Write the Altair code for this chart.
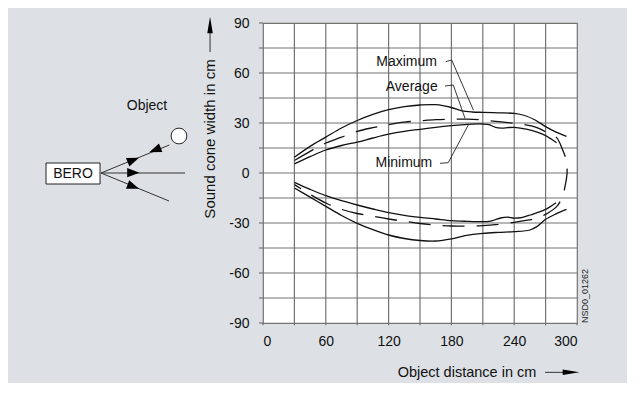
import altair as alt
import pandas as pd

# ---- curve data (x: object distance in cm, y: sound cone width in cm) ----
max_up_x = [30, 45, 60, 75, 90, 105, 120, 135, 150, 165, 180, 190, 200, 210, 225, 240, 250, 260, 270, 280, 290]
max_up_y = [9.5, 16, 21.5, 27, 31.5, 35.2, 38, 39.8, 40.8, 41, 39.3, 37.3, 36.6, 36.4, 36.1, 35.8, 34.5, 31.8, 27.8, 24.5, 22]

max_lo_x = [30, 45, 60, 75, 90, 105, 120, 135, 150, 165, 180, 193, 210, 225, 240, 255, 262, 270, 280, 290]
max_lo_y = [-9, -14.5, -20, -25.5, -30.2, -34, -37.2, -39.3, -40.5, -40.8, -39.5, -37.6, -36.2, -35.6, -35.2, -34.2, -32, -27.8, -24.5, -21.8]

min_up_x = [30, 45, 60, 75, 90, 105, 120, 135, 150, 165, 180, 195, 210, 216, 222, 228, 234, 240, 252.7, 262, 270, 280.5]
min_up_y = [5.5, 9.8, 13.8, 16.5, 18.5, 21, 23.3, 25, 26.2, 27.4, 28.4, 29.2, 29.4, 29, 27.4, 26.9, 27.2, 27.4, 26.2, 24.5, 22.4, 18.2]

min_lo_x = [30, 45, 60, 75, 90, 105, 120, 135, 150, 165, 180, 195, 210, 216, 221, 227, 233.6, 240, 248, 255.3, 262, 270, 280]
min_lo_y = [-5.6, -9.8, -13.6, -16.6, -19.2, -21.6, -23.8, -25.4, -26.6, -27.6, -28.6, -29, -29.2, -29, -28.2, -27, -26.5, -27.1, -26.6, -25.2, -23.8, -21.8, -17.8]

avg_x = [30, 45, 60, 75, 90, 105, 120, 135, 150, 165, 180, 195, 210, 225, 240, 250, 261, 270, 280.5,
         286, 289.5, 290.5, 288.5, 286,
         280.5, 270, 261, 250, 240, 225, 210, 195, 180, 165, 150, 135, 120, 105, 90, 75, 60, 45, 30]
avg_y = [7.5, 13, 18, 21.5, 25, 27.2, 29, 30.5, 31.3, 32, 32.3, 32.3, 31.8, 30.8, 29.8, 29, 27.4, 24.8, 21.2,
         14.2, 8.2, 0, -8.2, -14.2,
         -20.2, -24.8, -27.2, -28.6, -29.6, -30.8, -31.6, -31.8, -31.8, -31.2, -30.3, -29, -27.6, -26, -24.3, -21.8, -18, -12.8, -7]

# ---- annotation labels and leader lines ----
labels = ["Maximum", "Average", "Minimum"]
label_x = [166.2, 166.9, 161.7]
label_y = [66.6, 51.8, 6.2]
lead_max_x = [174.6, 180.3, 201]
lead_max_y = [66.8, 67.8, 37.8]
lead_avg_x = [173.9, 181.8, 193]
lead_avg_y = [52.2, 52.8, 32.8]
lead_min_x = [169.1, 177, 196.1]
lead_min_y = [5.8, 6.2, 28.8]

# ---- sketch on the left (in the same data units) ----
box_x = [-207.3]; box_x2 = [-155.7]; box_y = [-6.6]; box_y2 = [6.0]
ray_end_x = [-89.5, -74.5, -89.8]
ray_end_y = [16.8, 0.0, -16.8]
ray_start = (-154.8, 0.0)
obj_x = [-80.3]; obj_y = [22.2]
head_x = [-123.9, -103.2, -123.9, -123.9]
head_y = [7.8, 13.8, 0.2, -8.2]
head_ang = [68, 248, 90, 111]

# axis-title arrows
ytitle_arrow_x = [-50.6, -50.6]; ytitle_arrow_y = [72.6, 86]
xtitle_arrow_x = [269.4, 290]; xtitle_arrow_y = [-119.6, -119.6]
long_head_x = [-50.6, 294.3]; long_head_y = [88.8, -119.6]; long_head_ang = [0, 90]

# ---- grid, ticks, labels ----
x_grid = list(range(30, 271, 30))
y_grid = list(range(-75, 76, 15))
x_tick_vals = list(range(0, 301, 30))
y_tick_vals = list(range(-90, 91, 15))
x_label_vals = list(range(0, 301, 60))
y_label_vals = list(range(-90, 91, 30))

FONT = "Liberation Sans"
BG = "#dde1e5"
GRID = "#737373"

def path_df(xs, ys, key):
    return pd.DataFrame({"x": xs, "y": ys, "key": key, "i": list(range(len(xs)))})

solid = pd.concat([
    path_df(max_up_x, max_up_y, "max_up"),
    path_df(max_lo_x, max_lo_y, "max_lo"),
    path_df(min_up_x, min_up_y, "min_up"),
    path_df(min_lo_x, min_lo_y, "min_lo"),
])
avg = path_df(avg_x, avg_y, "avg")
leads = pd.concat([
    path_df(lead_max_x, lead_max_y, "lmax"),
    path_df(lead_avg_x, lead_avg_y, "lavg"),
    path_df(lead_min_x, lead_min_y, "lmin"),
])
rays = pd.concat([
    path_df([ray_start[0], ex], [ray_start[1], ey], f"r{k}")
    for k, (ex, ey) in enumerate(zip(ray_end_x, ray_end_y))
] + [path_df(ytitle_arrow_x, ytitle_arrow_y, "ya"), path_df(xtitle_arrow_x, xtitle_arrow_y, "xa")])

xs = alt.Scale(domain=[0, 300], nice=False, zero=False)
ys = alt.Scale(domain=[-90, 90], nice=False, zero=False)

X = alt.X("x:Q", scale=xs,
          axis=alt.Axis(values=x_label_vals, title=None, grid=False, ticks=False,
                        labelExpr="'' + datum.value"))
Y = alt.Y("y:Q", scale=ys,
          axis=alt.Axis(values=y_label_vals, title=None, grid=False, ticks=False,
                        labelExpr="'' + datum.value"))

vgrid = alt.Chart(pd.DataFrame({"x": x_grid, "y": -90, "y2": 90})).mark_rule(
    color=GRID, strokeWidth=1.2).encode(x=X, y=Y, y2="y2:Q")
hgrid = alt.Chart(pd.DataFrame({"y": y_grid, "x": 0, "x2": 300})).mark_rule(
    color=GRID, strokeWidth=1.2).encode(x="x:Q", x2="x2:Q", y="y:Q")
xticks = alt.Chart(pd.DataFrame({"x": x_tick_vals, "y": -91.4, "y2": -90})).mark_rule(
    color=GRID, strokeWidth=1.2).encode(x="x:Q", y="y:Q", y2="y2:Q")
yticks = alt.Chart(pd.DataFrame({"y": y_tick_vals, "x": -3.8, "x2": 0})).mark_rule(
    color=GRID, strokeWidth=1.2).encode(x="x:Q", x2="x2:Q", y="y:Q")

curves = alt.Chart(solid).mark_line(color="#111", strokeWidth=1.3, interpolate="catmull-rom").encode(
    x="x:Q", y="y:Q", detail="key:N", order="i:Q")
avg_line = alt.Chart(avg).mark_line(color="#111", strokeWidth=1.3, strokeDash=[22, 12],
                                    interpolate="catmull-rom").encode(
    x="x:Q", y="y:Q", order="i:Q")
lead_lines = alt.Chart(leads).mark_line(color="#222", strokeWidth=0.9).encode(
    x="x:Q", y="y:Q", detail="key:N", order="i:Q")

lab_df = pd.DataFrame({"x": label_x, "y": label_y, "t": labels})
lab = alt.Chart(lab_df).mark_text(align="right", baseline="middle", font=FONT, fontSize=14,
                                  color="#111").encode(x="x:Q", y="y:Q", text="t:N")

box = alt.Chart(pd.DataFrame({"x": box_x, "x2": box_x2, "y": box_y, "y2": box_y2})).mark_rect(
    fill="white", stroke="#222", strokeWidth=1).encode(x="x:Q", x2="x2:Q", y="y:Q", y2="y2:Q")
ray_lines = alt.Chart(rays).mark_line(color="#333", strokeWidth=1).encode(
    x="x:Q", y="y:Q", detail="key:N", order="i:Q")
obj = alt.Chart(pd.DataFrame({"x": obj_x, "y": obj_y})).mark_point(
    shape="circle", size=250, filled=True, fill="white", stroke="#222", strokeWidth=1, opacity=1).encode(
    x="x:Q", y="y:Q")
heads = alt.Chart(pd.DataFrame({"x": head_x, "y": head_y, "a": head_ang})).mark_point(
    shape="M0,-1L0.75,1L-0.75,1Z", size=150, filled=True, color="#000", opacity=1).encode(
    x="x:Q", y="y:Q", angle=alt.Angle("a:Q", scale=None))
long_heads = alt.Chart(pd.DataFrame({"x": long_head_x, "y": long_head_y, "a": long_head_ang})).mark_point(
    shape="M0,-1L0.33,1L-0.33,1Z", size=280, filled=True, color="#000", opacity=1).encode(
    x="x:Q", y="y:Q", angle=alt.Angle("a:Q", scale=None))

txt_df = pd.DataFrame({"x": [-110.8, -181.5], "y": [40.2, -0.3], "t": ["Object", "BERO"]})
txt = alt.Chart(txt_df).mark_text(font=FONT, fontSize=14, color="#111", baseline="middle").encode(
    x="x:Q", y="y:Q", text="t:N")

xt = alt.Chart(pd.DataFrame({"x": [194.9], "y": [-120.0], "t": ["Object distance in cm"]})).mark_text(
    font=FONT, fontSize=14.5, color="#111", baseline="middle").encode(x="x:Q", y="y:Q", text="t:N")
yt = alt.Chart(pd.DataFrame({"x": [-50.6], "y": [20.4], "t": ["Sound cone width in cm"]})).mark_text(
    font=FONT, fontSize=15, color="#111", baseline="middle", angle=270).encode(x="x:Q", y="y:Q", text="t:N")
code = alt.Chart(pd.DataFrame({"x": [307.6], "y": [-73.8], "t": ["NSD0_01262"]})).mark_text(
    font=FONT, fontSize=9, color="#222", baseline="middle", angle=270).encode(x="x:Q", y="y:Q", text="t:N")

chart = alt.layer(vgrid, hgrid, xticks, yticks, curves, avg_line, lead_lines, lab, box, ray_lines,
                  obj, heads, long_heads, txt, xt, yt, code).properties(
    width=314, height=300,
    autosize=alt.AutoSizeParams(type="none"),
    padding={"left": 255, "top": 15, "right": 50, "bottom": 60},
    background=BG,
).configure_view(fill="white", stroke=GRID, strokeWidth=1.2).configure_axis(
    domain=False, labelFont=FONT, labelFontSize=14, labelColor="#111",
).configure_axisX(labelPadding=11).configure_axisY(labelPadding=14)

chart.save("out.html", embed_options={"renderer": "svg", "actions": False})
